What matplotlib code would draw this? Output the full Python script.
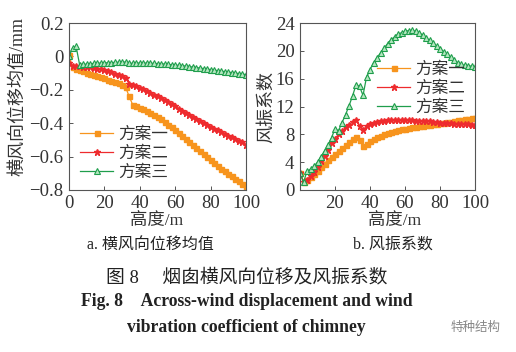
import numpy as np
import matplotlib
matplotlib.use('Agg')
import matplotlib.pyplot as plt

# fonts: serif for latin/digits, CJK fallback
FAM = ['Liberation Serif', 'Noto Sans CJK SC']
plt.rcParams['font.family'] = FAM
plt.rcParams['axes.unicode_minus'] = True

# heights (m)
height = list(range(0, 101, 2))

# a. mean across-wind displacement (mm)
disp_s1 = [0.01, -0.065, -0.075, -0.082, -0.09, -0.097, -0.104, -0.111, -0.118, -0.125,
           -0.132, -0.139, -0.146, -0.153, -0.162, -0.172, -0.185, -0.24, -0.29, -0.298,
           -0.306, -0.315, -0.325, -0.337, -0.35, -0.363, -0.377, -0.392, -0.408, -0.425,
           -0.442, -0.46, -0.478, -0.496, -0.514, -0.532, -0.55, -0.568, -0.586, -0.604,
           -0.622, -0.64, -0.657, -0.673, -0.689, -0.704, -0.718, -0.732, -0.748, -0.765,
           -0.785]
disp_s2 = [-0.04, -0.055, -0.058, -0.06, -0.062, -0.064, -0.066, -0.069, -0.073, -0.078,
           -0.084, -0.09, -0.096, -0.103, -0.11, -0.118, -0.128, -0.165, -0.172, -0.18,
           -0.188, -0.197, -0.207, -0.218, -0.229, -0.24, -0.252, -0.264, -0.276, -0.288,
           -0.3, -0.312, -0.324, -0.336, -0.348, -0.36, -0.372, -0.384, -0.396, -0.408,
           -0.42, -0.432, -0.443, -0.454, -0.465, -0.475, -0.485, -0.495, -0.505, -0.515,
           -0.528]
disp_s3 = [0.0, 0.05, 0.06, -0.05, -0.048, -0.046, -0.044, -0.042, -0.041, -0.04,
           -0.039, -0.038, -0.037, -0.036, -0.035, -0.034, -0.034, -0.042, -0.041, -0.04,
           -0.04, -0.04, -0.04, -0.041, -0.042, -0.043, -0.044, -0.046, -0.048, -0.05,
           -0.052, -0.054, -0.056, -0.058, -0.061, -0.064, -0.067, -0.07, -0.073, -0.076,
           -0.079, -0.082, -0.085, -0.088, -0.091, -0.094, -0.097, -0.1, -0.103, -0.106,
           -0.109]

# b. wind vibration coefficient
coef_s1 = [2.5, 1.2, 1.5, 1.9, 2.3, 2.8, 3.3, 3.8, 4.3, 4.8,
           5.2, 5.6, 6.0, 6.4, 6.9, 7.3, 7.6, 7.2, 6.3, 6.6,
           7.0, 7.3, 7.6, 7.8, 8.0, 8.2, 8.35, 8.5, 8.6, 8.7,
           8.8, 8.9, 9.0, 9.07, 9.14, 9.2, 9.28, 9.36, 9.44, 9.52,
           9.6, 9.68, 9.76, 9.84, 9.92, 10.0, 10.08, 10.16, 10.24, 10.32,
           10.4]
coef_s2 = [2.5, 1.2, 1.5, 2.0, 2.6, 3.3, 4.1, 4.9, 5.8, 6.7,
           7.4, 8.0, 8.5, 9.0, 9.4, 9.8, 10.0, 9.2, 8.6, 9.2,
           9.5, 9.7, 9.8, 9.9, 9.95, 10.0, 10.0, 10.0, 10.0, 10.0,
           10.0, 10.0, 10.0, 9.98, 9.97, 9.95, 9.9, 9.85, 9.8, 9.75,
           9.7, 9.65, 9.6, 9.56, 9.52, 9.5, 9.47, 9.45, 9.43, 9.41,
           9.4]
coef_s3 = [2.5, 1.1, 2.7, 3.0, 3.4, 4.0, 4.8, 5.6, 6.5, 7.5,
           8.8, 8.5, 9.7, 10.8, 12.1, 13.5, 15.1, 14.9, 13.6, 16.2,
           17.3, 18.3, 19.0, 19.7, 20.4, 21.0, 21.6, 22.0, 22.4, 22.6,
           22.8, 22.9, 22.95, 22.8, 22.6, 22.3, 21.9, 21.5, 21.1, 20.7,
           20.3, 19.9, 19.5, 19.1, 18.7, 18.3, 18.05, 17.9, 17.85, 17.8,
           17.7]

labels = ['方案一', '方案二', '方案三']

ORANGE = '#f7941d'
RED = '#ee2b2e'
GREEN = '#1f9e4c'
GREEN_FILL = '#b5e6c0'
SPINE = '#555555'
TXT = '#333333'

W, H = 516, 352


def draw(ax, s1, s2, s3):
    ax.plot(height, s1, color=ORANGE, lw=0.9, marker='s', ms=3.6,
            mfc=ORANGE, mec=ORANGE, label=labels[0])
    ax.plot(height, s2, color=RED, lw=0.9, marker='*', ms=4.5,
            mfc=RED, mec=RED, label=labels[1])
    ax.plot(height, s3, color=GREEN, lw=0.9, marker='^', ms=3.8,
            mfc=GREEN_FILL, mec=GREEN, mew=0.8, label=labels[2])
    for sp in ax.spines.values():
        sp.set_color(SPINE)
        sp.set_linewidth(0.8)
    ax.tick_params(direction='in', length=3, width=0.7, color=SPINE,
                   labelsize=13.5, labelcolor=TXT)
    ax.tick_params(axis='y', pad=4)
    ax.tick_params(axis='x', pad=3.5)
    ax.set_xlim(0, 100)
    ax.set_xlabel('高度/m', fontsize=12.5, color=TXT)


def add_legend(ax, px, py):
    # px, py: figure pixel position of the middle entry's handle start
    lg = ax.legend(loc='center left', bbox_to_anchor=(px / W, 1 - py / H),
                   bbox_transform=fig.transFigure, frameon=False,
                   handlelength=2.0, handletextpad=0.3, labelspacing=0.12,
                   borderpad=0, borderaxespad=0,
                   prop={'family': 'Noto Sans CJK SC', 'size': 12})
    for t in lg.get_texts():
        t.set_color(TXT)


fig = plt.figure(figsize=(5.16, 3.52), dpi=100)

ax1 = fig.add_axes([69 / W, 1 - 190 / H, 177 / W, 167 / H])
draw(ax1, disp_s1, disp_s2, disp_s3)
ax1.set_ylim(-0.8, 0.2)
ax1.set_yticks([-0.8, -0.6, -0.4, -0.2, 0, 0.2])
ax1.set_yticklabels(['\u22120.8', '\u22120.6', '\u22120.4', '\u22120.2', '0', '0.2'])
ax1.set_xticks([0, 20, 40, 60, 80, 100])
ax1.set_ylabel('横风向位移均值/mm', fontsize=13, color=TXT)
ax1.yaxis.set_label_coords((26 - 69) / 177, (190 - 96) / 167)
ax1.xaxis.set_label_coords((157 - 69) / 177, (190 - 213) / 167)
add_legend(ax1, 80, 153)

ax2 = fig.add_axes([300 / W, 1 - 190 / H, 175 / W, 167 / H])
draw(ax2, coef_s1, coef_s2, coef_s3)
ax2.set_ylim(0, 24)
ax2.set_yticks([0, 4, 8, 12, 16, 20, 24])
ax2.set_xticks([20, 40, 60, 80, 100])
ax2.set_ylabel('风振系数', fontsize=13, color=TXT)
ax2.yaxis.set_label_coords((275 - 300) / 175, (190 - 107) / 167)
ax2.xaxis.set_label_coords((395 - 300) / 175, (190 - 213) / 167)
add_legend(ax2, 377, 88)

# captions
fig.text(150 / W, 1 - 245 / H, 'a. 横风向位移均值', ha='center', va='center',
         fontsize=11.5, color='#222222')
fig.text(393 / W, 1 - 245 / H, 'b. 风振系数', ha='center', va='center',
         fontsize=11.5, color='#222222')
fig.text(247 / W, 1 - 278 / H, '图 8\u2003 烟囱横风向位移及风振系数', ha='center', va='center',
         fontsize=13.5, color='#222222')
fig.text(247 / W, 1 - 302 / H, 'Fig. 8\u2003Across-wind displacement and wind',
         ha='center', va='center', fontsize=12.7, fontweight='bold', color='#222222',
         family=['Liberation Serif'])
fig.text(246 / W, 1 - 327 / H, 'vibration coefficient of chimney',
         ha='center', va='center', fontsize=12.7, fontweight='bold', color='#222222',
         family=['Liberation Serif'])
fig.text(476 / W, 1 - 327 / H, '特种结构', ha='center', va='center',
         fontsize=9, color='#888888', family=['Noto Sans CJK SC'])

fig.savefig('out.png', dpi=100)
